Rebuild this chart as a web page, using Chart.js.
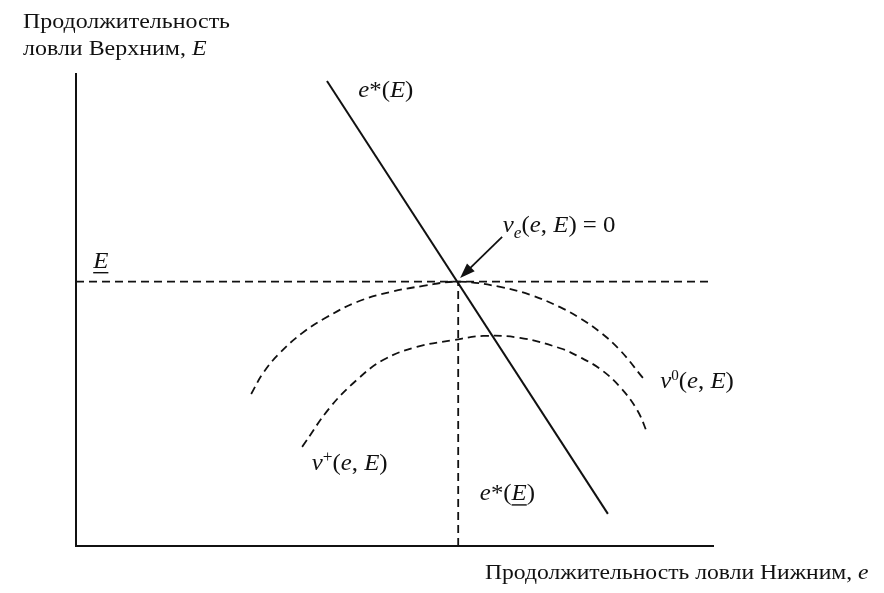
<!DOCTYPE html>
<html>
<head>
<meta charset="utf-8">
<script src="https://cdn.jsdelivr.net/npm/chart.js@4.4.1/dist/chart.umd.min.js"></script>
<style>
  body { margin: 0; background: #fff; }
  #wrap { width: 884px; height: 593px; position: relative; }
</style>
</head>
<body>
<div id="wrap"><canvas id="fig"></canvas></div>
<script>
// reaction curve e*(E) of the lower fisher
const reactE = [3.94, 8.35];
const reactTop = [9.85, 0.68];

// iso-value curve v0(e, E)
const v0E = [2.75, 2.94, 3.20, 3.55, 3.94, 4.41, 4.93, 5.45, 6.00, 6.66, 7.13, 7.60, 7.91, 8.23, 8.54, 8.90];
const v0Top = [3.22, 3.67, 4.09, 4.51, 4.85, 5.17, 5.38, 5.51, 5.60, 5.49, 5.32, 5.06, 4.83, 4.53, 4.15, 3.56];

// iso-value curve v+(e, E)
const vPlusE = [3.55, 3.99, 4.41, 4.82, 5.35, 5.92, 6.39, 6.97, 7.60, 7.91, 8.23, 8.54, 8.81, 8.97];
const vPlusTop = [2.10, 2.94, 3.52, 3.94, 4.22, 4.36, 4.45, 4.41, 4.19, 4.00, 3.75, 3.37, 2.88, 2.39];

// equilibrium: E (underlined) and e*(E)
const eBarTop = 5.6;
const eStarBottom = 6.0;

const axisMax = 10;

function pts(xs, ys) {
    return xs.map(function(x, i) { return { x: x, y: ys[i] }; });
}

const serif = '"Liberation Serif", "DejaVu Serif", serif';

// draws a run of text pieces, each with its own size / style / vertical shift;
// stretch widens the glyphs horizontally
function drawRuns(ctx, x, y, runs, stretch) {
    const k = stretch || 1;
    ctx.save();
    ctx.translate(x, y);
    ctx.scale(k, 1);
    let cx = 0;
    runs.forEach(function(r) {
        ctx.font = (r.italic ? 'italic ' : '') + r.size + 'px ' + serif;
        ctx.fillText(r.t, cx, r.dy || 0);
        const w = ctx.measureText(r.t).width;
        if (r.under) {
            ctx.fillRect(cx, 4, w, 1.4);
        }
        cx += w;
    });
    ctx.restore();
}

const labelsPlugin = {
    id: 'labels',
    afterDatasetsDraw: function(chart) {
        const ctx = chart.ctx;
        const xs = chart.scales.x, ys = chart.scales.y;
        const px = function(v) { return xs.getPixelForValue(v); };
        const py = function(v) { return ys.getPixelForValue(v); };
        ctx.save();
        ctx.fillStyle = '#111';
        ctx.textBaseline = 'alphabetic';

        // axis titles
        const t = 21;
        drawRuns(ctx, 23, 28, [{ t: 'Продолжительность', size: t }], 1.14);
        drawRuns(ctx, 23, 55, [{ t: 'ловли Верхним, ', size: t }, { t: 'E', size: t, italic: true }], 1.14);
        drawRuns(ctx, 485, 579, [{ t: 'Продолжительность ловли Нижним, ', size: t }, { t: 'e', size: t, italic: true }], 1.125);

        const s = 23, sm = 14, w = 1.08;
        // e*(E) on the reaction line
        drawRuns(ctx, px(4.43), py(9.51), [
            { t: 'e', size: s, italic: true }, { t: '*', size: s }, { t: '(', size: s }, { t: 'E', size: s, italic: true }, { t: ')', size: s }
        ], w);
        // v_e(e, E) = 0
        drawRuns(ctx, px(6.70), py(6.65), [
            { t: 'v', size: s, italic: true }, { t: 'e', size: sm + 2, italic: true, dy: 6 },
            { t: '(', size: s }, { t: 'e', size: s, italic: true }, { t: ', ', size: s },
            { t: 'E', size: s, italic: true }, { t: ') = 0', size: s }
        ], w);
        // v0(e, E)
        drawRuns(ctx, px(9.17), py(3.35), [
            { t: 'v', size: s, italic: true }, { t: '0', size: sm, dy: -8 },
            { t: '(', size: s }, { t: 'e', size: s, italic: true }, { t: ', ', size: s },
            { t: 'E', size: s, italic: true }, { t: ')', size: s }
        ], w);
        // v+(e, E)
        drawRuns(ctx, px(3.70), py(1.61), [
            { t: 'v', size: s, italic: true }, { t: '+', size: sm + 2, dy: -8 },
            { t: '(', size: s }, { t: 'e', size: s, italic: true }, { t: ', ', size: s },
            { t: 'E', size: s, italic: true }, { t: ')', size: s }
        ], w);
        // e*(E) under the vertical guide
        drawRuns(ctx, px(6.34), py(0.97), [
            { t: 'e', size: s, italic: true }, { t: '*', size: s }, { t: '(', size: s },
            { t: 'E', size: s, italic: true, under: true }, { t: ')', size: s }
        ], w);
        // E on the vertical axis
        drawRuns(ctx, px(0.27), py(5.89), [{ t: 'E', size: s, italic: true, under: true }], w);

        // arrow to the equilibrium point
        const x0 = px(6.69), y0 = py(6.55);
        const x1 = px(eStarBottom + 0.03), y1 = py(eBarTop + 0.08);
        const ang = Math.atan2(y1 - y0, x1 - x0);
        ctx.strokeStyle = '#111';
        ctx.lineWidth = 1.8;
        ctx.beginPath();
        ctx.moveTo(x0, y0);
        ctx.lineTo(x1 - 10 * Math.cos(ang), y1 - 10 * Math.sin(ang));
        ctx.stroke();
        ctx.beginPath();
        ctx.moveTo(x1, y1);
        ctx.lineTo(x1 - 15 * Math.cos(ang) + 5.5 * Math.sin(ang), y1 - 15 * Math.sin(ang) - 5.5 * Math.cos(ang));
        ctx.lineTo(x1 - 15 * Math.cos(ang) - 5.5 * Math.sin(ang), y1 - 15 * Math.sin(ang) + 5.5 * Math.cos(ang));
        ctx.closePath();
        ctx.fill();
        ctx.restore();
    }
};

const dashed = { borderColor: '#111', borderWidth: 1.8, borderDash: [8, 5], pointRadius: 0, showLine: true, fill: false };

const data = {
    datasets: [
        Object.assign({}, dashed, { data: pts([0, axisMax], [eBarTop, eBarTop]) }),
        Object.assign({}, dashed, { data: pts([eStarBottom, eStarBottom], [0, eBarTop]) }),
        Object.assign({}, dashed, { data: pts(v0E, v0Top), tension: 0.4 }),
        Object.assign({}, dashed, { data: pts(vPlusE, vPlusTop), tension: 0.4 }),
        { data: pts(reactE, reactTop), borderColor: '#111', borderWidth: 2, pointRadius: 0, showLine: true, fill: false }
    ]
};

const hiddenScale = {
    type: 'linear', min: 0, max: axisMax,
    ticks: { display: false },
    grid: { display: false, drawTicks: false },
    border: { display: true, color: '#111', width: 2 }
};

const config = {
    type: 'scatter',
    data: data,
    options: {
        responsive: true,
        maintainAspectRatio: false,
        animation: false,
        layout: { padding: { left: 76, top: 74, right: 171, bottom: 47 } },
        plugins: { legend: { display: false }, tooltip: { enabled: false } },
        scales: { x: hiddenScale, y: Object.assign({}, hiddenScale) }
    },
    plugins: [labelsPlugin]
};

new Chart(document.getElementById('fig'), config);
</script>
</body>
</html>
